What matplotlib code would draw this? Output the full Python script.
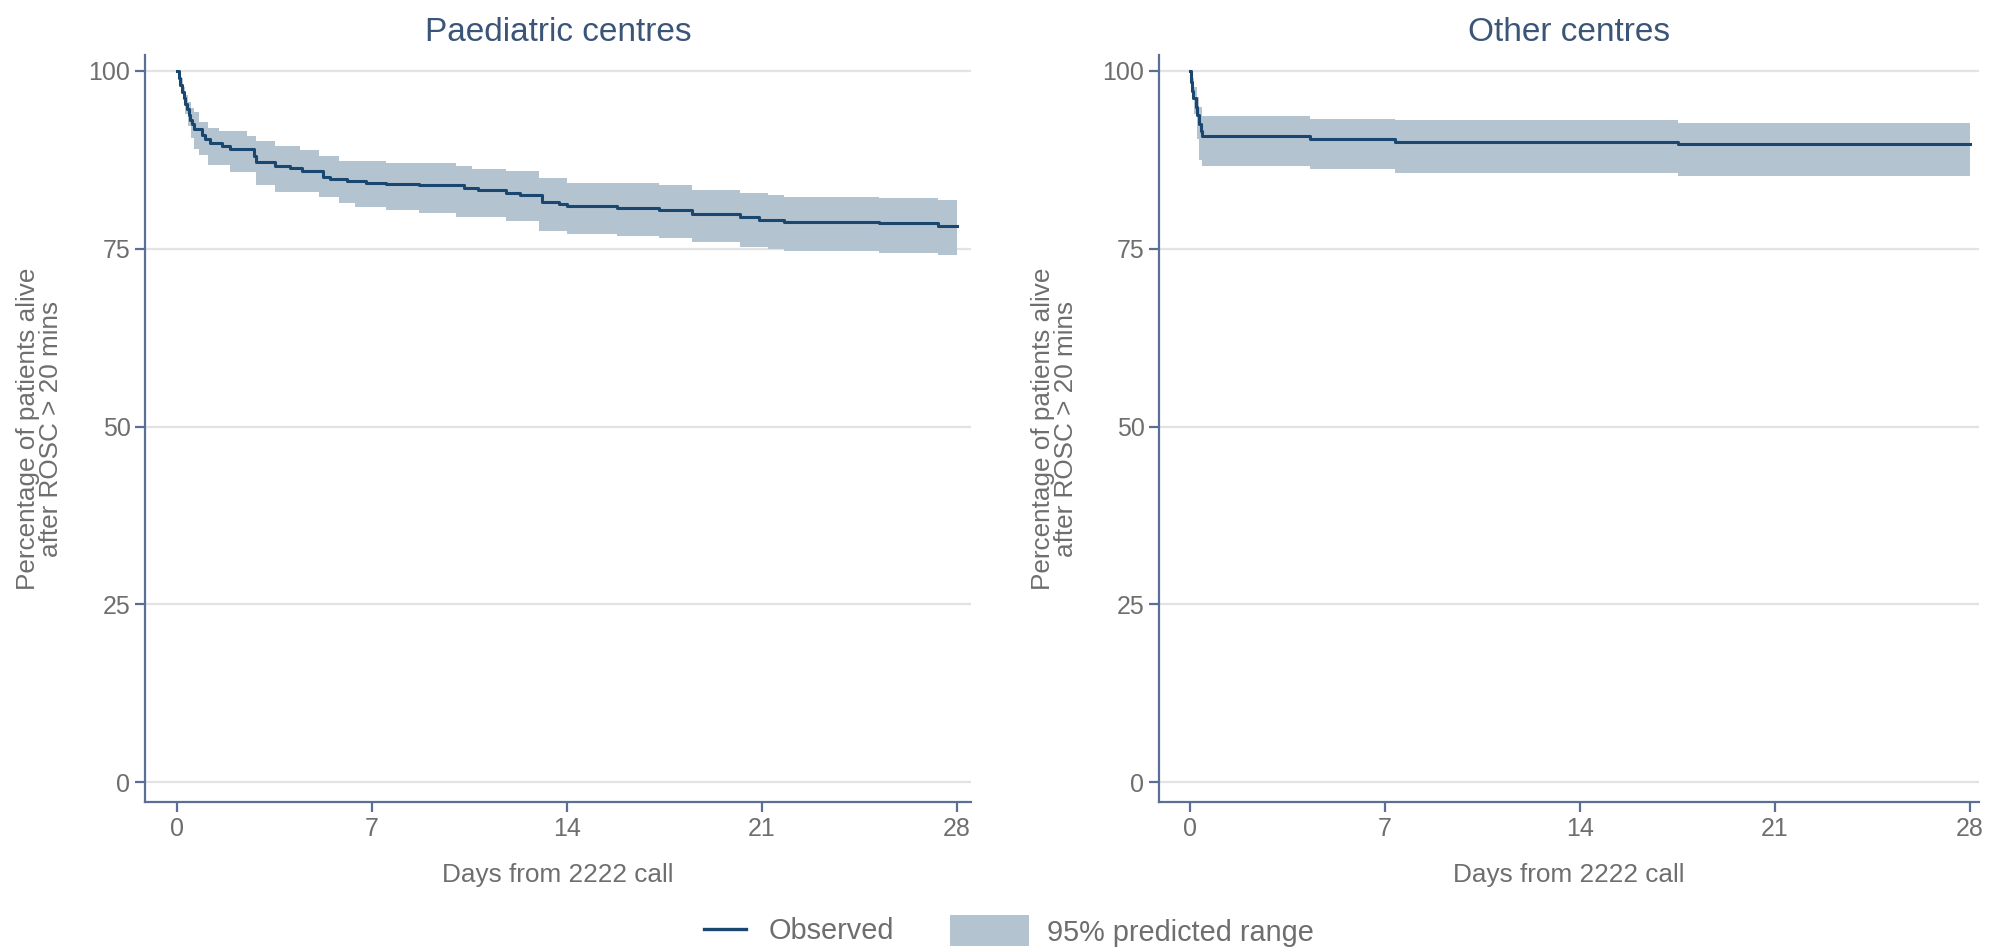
import matplotlib
matplotlib.use("Agg")
import matplotlib.pyplot as plt
from matplotlib.lines import Line2D
from matplotlib.patches import Patch

plt.rcParams["font.family"] = ["Liberation Sans", "DejaVu Sans"]

# ---- Kaplan-Meier style survival data (days from 2222 call, % alive) ----
paed_time = [0, 0.06, 0.12, 0.18, 0.24, 0.30, 0.36, 0.42, 0.48, 0.54, 0.6, 0.89,
             1.0, 1.18, 1.6, 1.9, 2.75, 2.85, 3.5, 4.05, 4.5, 5.25, 5.5, 6.1,
             6.8, 7.5, 8.7, 10.3, 10.8, 11.8, 12.3, 13.1, 13.7, 14.0, 15.8,
             17.3, 18.5, 20.2, 20.9, 21.2, 21.8, 25.2, 27.3, 28.0]
paed_observed = [100, 99.0, 98.0, 97.1, 96.2, 95.3, 94.6, 93.8, 93.1, 92.5, 91.9,
                 91.0, 90.5, 89.9, 89.4, 89.0, 88.0, 87.2, 86.6, 86.4, 86.0, 85.1,
                 84.8, 84.6, 84.3, 84.1, 83.9, 83.5, 83.3, 82.9, 82.6, 81.6, 81.3,
                 81.0, 80.7, 80.5, 79.9, 79.4, 79.1, 79.0, 78.8, 78.6, 78.2, 78.2]

paed_band_time = [0, 0.1, 0.2, 0.3, 0.4, 0.5, 0.6, 0.8, 1.1, 1.5, 1.9, 2.5, 2.85,
                  3.5, 4.4, 5.1, 5.8, 6.4, 7.5, 8.7, 10.0, 10.6, 11.8, 13.0, 14.0,
                  15.8, 17.3, 18.5, 20.2, 21.2, 21.8, 25.2, 27.3, 28.0]
paed_upper = [100, 99.0, 97.8, 96.6, 95.6, 94.8, 94.2, 92.8, 92.0, 91.5, 91.5,
              90.8, 90.2, 89.4, 88.9, 88.0, 87.3, 87.3, 87.0, 87.0, 86.6, 86.2,
              85.9, 84.9, 84.3, 84.2, 84.0, 83.3, 82.9, 82.6, 82.3, 82.1, 81.9, 81.9]
paed_lower = [100, 98.0, 96.0, 94.0, 92.2, 90.6, 89.1, 88.2, 86.8, 86.8, 85.8,
              85.8, 84.0, 83.0, 83.0, 82.3, 81.4, 80.9, 80.5, 80.1, 79.5, 79.5,
              78.9, 77.5, 77.1, 76.8, 76.5, 75.9, 75.3, 75.0, 74.7, 74.4, 74.1, 74.1]

other_time = [0, 0.04, 0.08, 0.12, 0.2, 0.26, 0.32, 0.38, 0.42, 4.3, 7.36, 17.5, 28.0]
other_observed = [100, 98.5, 97.2, 96.2, 95.0, 93.8, 92.6, 91.6, 90.8, 90.4, 90.0,
                  89.7, 89.7]

other_band_time = [0, 0.08, 0.16, 0.24, 0.32, 0.42, 4.3, 7.36, 17.5, 28.0]
other_upper = [100, 99.0, 97.8, 96.3, 95.0, 93.7, 93.3, 93.1, 92.7, 92.7]
other_lower = [100, 97.0, 94.0, 90.5, 87.5, 86.6, 86.2, 85.7, 85.2, 85.2]

panel_titles = ["Paediatric centres", "Other centres"]
x_ticks = [0, 7, 14, 21, 28]
y_ticks = [0, 25, 50, 75, 100]
x_label = "Days from 2222 call"
y_label = "Percentage of patients alive\nafter ROSC > 20 mins"
legend_labels = ["Observed", "95% predicted range"]

# ---- styling ----
LINE_C = "#1a476f"
BAND_C = "#b4c3d0"
AXIS_C = "#5b6e95"
TITLE_C = "#3b5578"
TEXT_C = "#6e6e6e"
GRID_C = "#e3e3e3"

fig = plt.figure(figsize=(19.99, 9.5), dpi=100)
ax_left = fig.add_axes([145 / 1999, 148 / 950, 826 / 1999, 747 / 950])
ax_right = fig.add_axes([1159 / 1999, 148 / 950, 820 / 1999, 747 / 950])

panels = [
    (ax_left, paed_time, paed_observed, paed_band_time, paed_upper, paed_lower,
     (-1.15, 28.5)),
    (ax_right, other_time, other_observed, other_band_time, other_upper, other_lower,
     (-1.11, 28.32)),
]

for title, (ax, t, obs, bt, up, lo, xl) in zip(panel_titles, panels):
    ax.fill_between(bt, lo, up, step="post", color=BAND_C, linewidth=0, zorder=2)
    ax.plot(t, obs, drawstyle="steps-post", color=LINE_C, linewidth=2.2, zorder=3)

    ax.set_xlim(*xl)
    ax.set_ylim(-2.8, 102.25)
    ax.set_xticks(x_ticks)
    ax.set_yticks(y_ticks)
    ax.grid(axis="y", color=GRID_C, linewidth=1.6, zorder=0)
    ax.set_axisbelow(True)

    for side in ("top", "right"):
        ax.spines[side].set_visible(False)
    for side in ("left", "bottom"):
        ax.spines[side].set_color(AXIS_C)
        ax.spines[side].set_linewidth(1.6)

    ax.tick_params(axis="both", colors=AXIS_C, width=1.6, length=7.5,
                   labelsize=18, labelcolor=TEXT_C)
    ax.tick_params(axis="x", pad=3)
    ax.tick_params(axis="y", pad=3)

    ax.set_xlabel(x_label, fontsize=18.8, color=TEXT_C)
    ax.xaxis.label.set_va("center")
    ax.xaxis.set_label_coords(0.5, -0.098)

    ax.set_ylabel(y_label, fontsize=18.8, color=TEXT_C, linespacing=0.95)
    ax.yaxis.label.set_va("center")
    ax.yaxis.set_label_coords(-0.128, 0.5)

    ax.set_title(title, fontsize=24, color=TITLE_C, pad=10)

# ---- legend along the bottom ----
leg1 = fig.legend(handles=[Line2D([], [], color=LINE_C, linewidth=2.4)],
                  labels=[legend_labels[0]], loc="center left",
                  bbox_to_anchor=(704 / 1999, 0.02), frameon=False,
                  fontsize=20.8, handlelength=1.45, handletextpad=0.8,
                  borderpad=0, borderaxespad=0, labelcolor=TEXT_C)
leg2 = fig.legend(handles=[Patch(facecolor=BAND_C, edgecolor="none")],
                  labels=[legend_labels[1]], loc="center left",
                  bbox_to_anchor=(950 / 1999, 0.02), frameon=False,
                  fontsize=20.8, handlelength=2.75, handleheight=1.28,
                  handletextpad=0.6, borderpad=0, borderaxespad=0,
                  labelcolor=TEXT_C)

fig.savefig("out.png", dpi=100, facecolor="white")
